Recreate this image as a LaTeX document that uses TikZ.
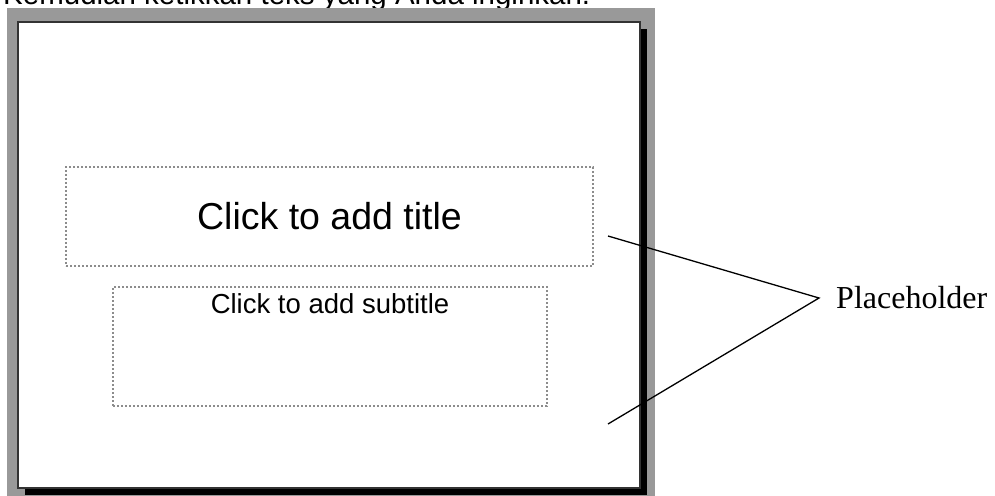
\documentclass[tikz,border=0pt]{standalone}
\usepackage{fontspec}
\setmainfont{Liberation Sans}
\newfontfamily\serifface{Liberation Serif}
\definecolor{bggray}{HTML}{999999}
\definecolor{dashgray}{HTML}{8C8C8C}
\begin{document}
\begin{tikzpicture}[x=1pt,y=-1pt,
  holder/.style={draw=dashgray,line width=1.2pt,dash pattern=on 2.2pt off 1.8pt},
  conn/.style={draw=black,line width=1.3pt}]
\useasboundingbox (0,0) rectangle (995,495);
\clip (0,0) rectangle (995,495);
% top text (cut off)
\node[anchor=base west,inner sep=0pt,font=\fontsize{29.5}{32}\selectfont] (top) at (3,5) {Kemudian ketikkan teks yang Anda inginkan.};
% background and slide
\fill[bggray] (7,8) rectangle (655,500);
\fill[black] (25,29) rectangle (647,495);
\draw[fill=white,draw=black!80,line width=1.3pt] (18,22) rectangle (640,488);
% placeholders
\node[holder,minimum width=527pt,minimum height=99pt,inner sep=0pt,
      font=\fontsize{37.5}{40}\selectfont] (title) at (329.5,216.5) {Click to add title};
\node[holder,minimum width=434pt,minimum height=119pt,inner sep=0pt] (sub) at (330,346.5) {};
\node[anchor=base,inner sep=0pt,font=\fontsize{27.5}{30}\selectfont] (subtext) at (sub.north |- 0,313) {Click to add subtitle};
% label and connectors
\coordinate (ap) at (819,298);
\coordinate (t1) at (608,236);
\coordinate (t2) at (608,424);
\node[anchor=west,inner sep=0pt,font=\serifface\fontsize{32}{36}\selectfont] (lab) at (836,298) {Placeholder};
\draw[conn] (t1) -- (ap) -- (t2);
\end{tikzpicture}
\end{document}
